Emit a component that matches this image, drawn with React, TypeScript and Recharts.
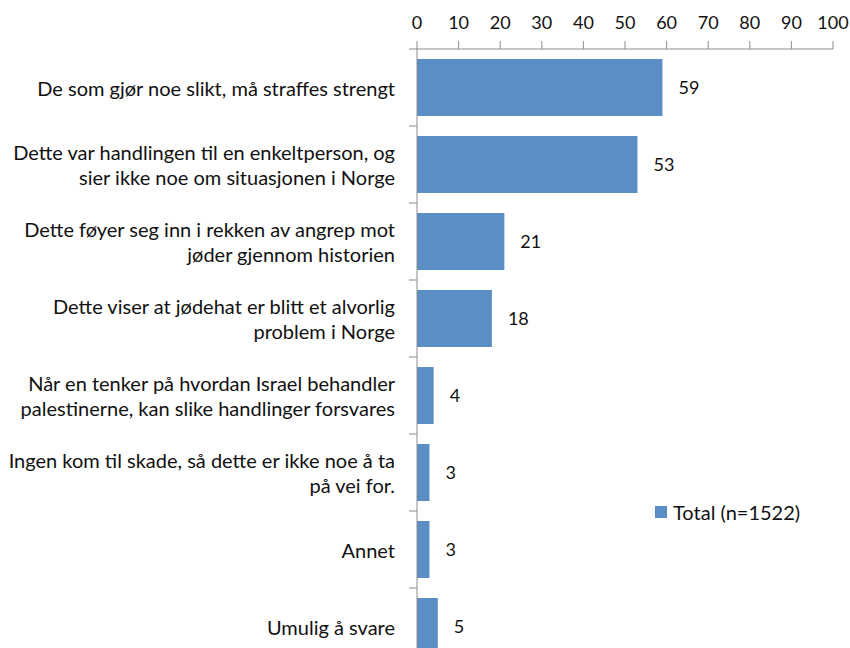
import { BarChart, Bar, XAxis, YAxis, LabelList, Legend } from 'recharts';

const categories = [
  'De som gjør noe slikt, må straffes strengt',
  'Dette var handlingen til en enkeltperson, og\nsier ikke noe om situasjonen i Norge',
  'Dette føyer seg inn i rekken av angrep mot\njøder gjennom historien',
  'Dette viser at jødehat er blitt et alvorlig\nproblem i Norge',
  'Når en tenker på hvordan Israel behandler\npalestinerne, kan slike handlinger forsvares',
  'Ingen kom til skade, så dette er ikke noe å ta\npå vei for.',
  'Annet',
  'Umulig å svare',
];
const totals = [59, 53, 21, 18, 4, 3, 3, 5];
const xTicks = [0, 10, 20, 30, 40, 50, 60, 70, 80, 90, 100];
const seriesName = 'Total (n=1522)';

const data = categories.map((c, i) => ({ name: c, total: totals[i] }));

// page is laid out from the top-left corner (body margin removed)
const W = 850;
const H = 666;
const TOP = 49;
const BOTTOM = 1;
const AXIS_X = 417;
const BAND = (H - TOP - BOTTOM) / categories.length;
const FONT = 'Lato, "Open Sans", sans-serif';
const BLUE = '#5b8ec4';
const AXIS = '#8c8c8c';

function CatTick(props: any) {
  const { y, payload } = props;
  const lines = String(payload.value).split('\n');
  const lh = 25;
  const y0 = y - ((lines.length - 1) * lh) / 2;
  const tx = AXIS_X - 22;
  return (
    <g>
      <line x1={AXIS_X - 8} x2={AXIS_X} y1={y - BAND / 2} y2={y - BAND / 2} stroke={AXIS} />
      <text x={tx} y={y0} textAnchor="end" dominantBaseline="central" fontSize={20} fill="#111" fontFamily={FONT}>
        {lines.map((l, i) => (
          <tspan key={i} x={tx} y={y0 + i * lh}>{l}</tspan>
        ))}
      </text>
    </g>
  );
}

function LegendBox() {
  return (
    <div style={{ display: 'flex', alignItems: 'center', fontFamily: FONT, fontSize: 20, color: '#111' }}>
      <span style={{ width: 12, height: 12, background: BLUE, display: 'inline-block', marginRight: 6 }} />
      {seriesName}
    </div>
  );
}

export default function App() {
  return (
    <div style={{ width: W, height: 648, overflow: 'hidden', position: 'relative' }}>
      <style>{'html, body { margin: 0; overflow: hidden; }'}</style>
      <BarChart
        width={W}
        height={H}
        data={data}
        layout="vertical"
        margin={{ top: 0, right: 17, bottom: BOTTOM, left: 0 }}
      >
        <XAxis
          type="number"
          orientation="top"
          domain={[0, 100]}
          ticks={xTicks}
          height={TOP}
          axisLine={{ stroke: AXIS }}
          tickLine={{ stroke: AXIS }}
          tickSize={8}
          tickMargin={12}
          tick={{ fill: '#111', fontSize: 18, fontFamily: FONT }}
          interval={0}
        />
        <YAxis
          type="category"
          dataKey="name"
          width={AXIS_X}
          axisLine={{ stroke: AXIS }}
          tickLine={false}
          tick={<CatTick />}
          interval={0}
        />
        <Legend
          layout="horizontal"
          verticalAlign="middle"
          align="center"
          content={<LegendBox />}
          wrapperStyle={{ left: 655, top: 500, width: 'auto' }}
        />
        <Bar dataKey="total" name={seriesName} fill={BLUE} barSize={57} isAnimationActive={false}>
          <LabelList dataKey="total" position="right" offset={16} fill="#111" fontSize={18} fontFamily={FONT} />
        </Bar>
      </BarChart>
    </div>
  );
}
